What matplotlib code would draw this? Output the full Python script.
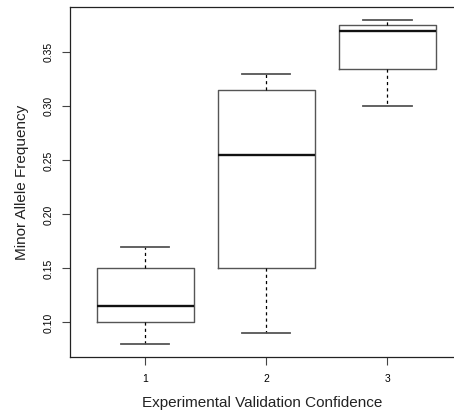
import matplotlib
matplotlib.use("Agg")
import matplotlib.pyplot as plt

plt.rcParams["font.family"] = ["Liberation Sans", "DejaVu Sans"]

# five-number summaries
groups = ["1", "2", "3"]
whislo = [0.08, 0.09, 0.30]
q1 = [0.10, 0.15, 0.335]
med = [0.115, 0.255, 0.37]
q3 = [0.15, 0.315, 0.375]
whishi = [0.17, 0.33, 0.38]
yticks = [0.10, 0.15, 0.20, 0.25, 0.30, 0.35]

stats = [
    dict(label=g, whislo=lo, q1=a, med=m, q3=b, whishi=hi, fliers=[])
    for g, lo, a, m, b, hi in zip(groups, whislo, q1, med, q3, whishi)
]

fig = plt.figure(figsize=(4.54, 4.16), dpi=100)
ax = fig.add_axes([70 / 454, 1 - 357 / 416, 384 / 454, 350 / 416])

edge = "#555555"
ax.bxp(
    stats,
    positions=[1, 2, 3],
    widths=0.8,
    showfliers=False,
    patch_artist=False,
    boxprops=dict(color=edge, linewidth=1.0),
    whiskerprops=dict(color="black", linewidth=0.9, linestyle=(0, (2.5, 2.5))),
    capprops=dict(color=edge, linewidth=1.3),
    medianprops=dict(color="#111111", linewidth=1.7, solid_capstyle="butt"),
    capwidths=0.4,
)

ax.set_xlim(0.38, 3.55)
ax.set_ylim(0.068, 0.392)
ax.set_xticks([1, 2, 3])
ax.set_xticklabels(groups)
ax.set_yticks(yticks)
ax.set_yticklabels([f"{v:.2f}" for v in yticks], rotation=90, va="center")
ax.tick_params(labelsize=7.5, length=6, width=0.8, color="#444444", pad=6)

for side in ["left", "bottom", "top"]:
    ax.spines[side].set_linewidth(0.9)
    ax.spines[side].set_color("#222222")
ax.spines["right"].set_visible(False)

ax.set_xlabel("Experimental Validation Confidence", fontsize=11, color="#222222", labelpad=9)
ax.set_ylabel("Minor Allele Frequency", fontsize=11, color="#222222", labelpad=10)

fig.savefig("out.png", dpi=100)
